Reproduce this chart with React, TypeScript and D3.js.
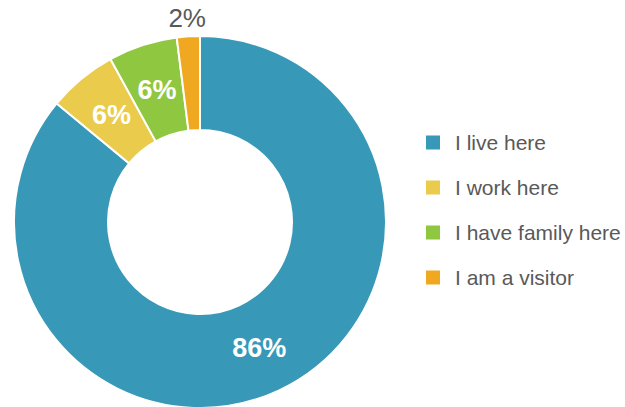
import React from "react";
import * as d3 from "d3";

const categories = ["I live here", "I work here", "I have family here", "I am a visitor"];
const values = [86, 6, 6, 2];
const labels = ["86%", "6%", "6%", "2%"];
const colors = ["#3799b7", "#eacb4b", "#90c740", "#f0a820"];

const W = 625;
const H = 407;
const cx = 200;
const cy = 222;
const outerR = 186;
const innerR = 92;

export default function App() {
  const pie = d3.pie<number>().sort(null).value((d) => d);
  const arcs = pie(values);
  const arc = d3.arc<d3.PieArcDatum<number>>().innerRadius(innerR).outerRadius(outerR);
  const outerLabel = d3.arc<d3.PieArcDatum<number>>().innerRadius(204).outerRadius(204);
  const legendY = d3.scaleBand<string>().domain(categories).range([120, 300]);

  return (
    <svg
      width={W}
      height={H}
      style={{ position: "absolute", left: 0, top: 0, fontFamily: "'Liberation Sans', Arial, sans-serif" }}
    >
      <rect width={W} height={H} fill="#ffffff" />
      <g transform={`translate(${cx},${cy})`}>
        {arcs.map((a, i) => (
          <path key={i} d={arc(a) || ""} fill={colors[i]} stroke="#ffffff" strokeWidth={2} />
        ))}
        {arcs.map((a, i) => {
          const inside = values[i] >= 5;
          const [x, y] = inside ? arc.centroid(a) : outerLabel.centroid(a);
          return (
            <text
              key={"l" + i}
              x={x}
              y={y}
              textAnchor="middle"
              dominantBaseline="central"
              fontSize={inside ? 27 : 26}
              fontWeight={inside ? "bold" : "normal"}
              fill={inside ? "#ffffff" : "#595959"}
            >
              {labels[i]}
            </text>
          );
        })}
      </g>
      {categories.map((c, i) => {
        const y = (legendY(c) || 0) + legendY.bandwidth() / 2;
        return (
          <g key={"lg" + i}>
            <rect x={426} y={y - 7} width={14} height={14} fill={colors[i]} />
            <text x={455} y={y} dominantBaseline="central" fontSize={21} fill="#595959">
              {c}
            </text>
          </g>
        );
      })}
    </svg>
  );
}
